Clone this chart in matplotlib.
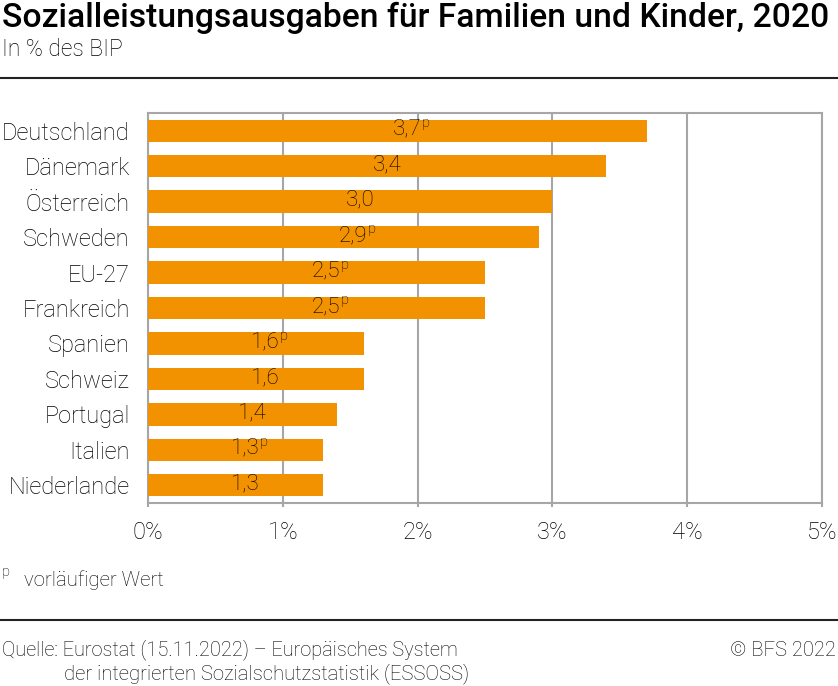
import numpy as np
from matplotlib import pyplot as plt
from matplotlib.lines import Line2D

# data
laender = ["Deutschland", "Dänemark", "Österreich", "Schweden", "EU-27", "Frankreich",
           "Spanien", "Schweiz", "Portugal", "Italien", "Niederlande"]
werte = [3.7, 3.4, 3.0, 2.9, 2.5, 2.5, 1.6, 1.6, 1.4, 1.3, 1.3]
vorlaeufig = [True, False, False, True, True, True, True, False, False, True, False]
xticks = [0, 1, 2, 3, 4, 5]
xticklabels = ["0%", "1%", "2%", "3%", "4%", "5%"]

plt.rcParams['font.family'] = ['Roboto', 'DejaVu Sans']
orange = "#f39200"
grau = "#a6a6a6"
txt = "#000000"

fig = plt.figure(figsize=(8.38, 6.86), dpi=100)
ax = fig.add_axes([148/838, 1-503/686, (822-148)/838, (503-113)/686])

y = np.arange(len(laender))
ax.barh(y, werte, height=0.63, color=orange, zorder=3)
ax.set_ylim(len(laender)-0.5, -0.5)
ax.set_xlim(0, 5)

# value labels
for i, (v, p) in enumerate(zip(werte, vorlaeufig)):
    t = ax.annotate(f"{v:.1f}".replace(".", ","), xy=(v/2, i), xytext=(7, 1),
                    textcoords="offset points", ha="center", va="center",
                    fontsize=16, fontweight="light", color=txt, zorder=4)
    if p:
        ax.annotate("p", xy=(1, 1), xycoords=t, xytext=(0, 2), textcoords="offset points",
                    ha="left", va="top", fontsize=10.5, fontweight="light", color=txt, zorder=4)

ax.set_yticks(y)
ax.set_yticklabels(laender, fontsize=17, fontweight="light", color=txt)
for lab in ax.get_yticklabels():
    lab.set_y(lab.get_position()[1])
ax.tick_params(axis="y", length=0, pad=13)
ax.set_xticks(xticks)
ax.set_xticklabels(xticklabels, fontsize=17, fontweight="light", color=txt)
ax.tick_params(axis="x", length=3, width=1.5, color=grau, pad=10)
ax.grid(axis="x", color=grau, linewidth=1.5, zorder=0)
for s in ax.spines.values():
    s.set_color(grau)
    s.set_linewidth(1.5)

# header
fig.text(2/838, 1-18/686, "Sozialleistungsausgaben für Familien und Kinder, 2020",
         fontsize=24.2, fontweight="medium", color="black", va="center", ha="left")
fig.text(2/838, 1-50/686, "In % des BIP", fontsize=16.5, fontweight="light", color=txt,
         va="center", ha="left")
fig.add_artist(Line2D([0, 1], [1-78/686, 1-78/686], color="#222222", linewidth=1.5))

# footnote
fig.text(2/838, 1-572/686, "p", fontsize=10.5, fontweight="light", color=txt, va="center")
fig.text(24/838, 1-580/686, "vorläufiger Wert", fontsize=14.7, fontweight="light", color=txt,
         va="center")

# footer
fig.add_artist(Line2D([0, 1], [1-620/686, 1-620/686], color="#222222", linewidth=1.5))
fig.text(2/838, 1-650/686, "Quelle: Eurostat (15.11.2022) – Europäisches System",
         fontsize=14.4, fontweight="light", color=txt, va="center")
fig.text(64/838, 1-674/686, "der integrierten Sozialschutzstatistik (ESSOSS)",
         fontsize=14.6, fontweight="light", color=txt, va="center")
fig.text(836/838, 1-650/686, "© BFS 2022", fontsize=14.5, fontweight="light", color=txt,
         va="center", ha="right")

fig.savefig("out.png", dpi=100)
